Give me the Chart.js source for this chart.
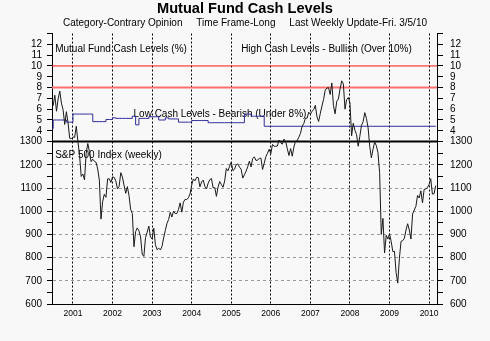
<!DOCTYPE html>
<html>
<head>
<meta charset="utf-8">
<script src="https://cdn.jsdelivr.net/npm/chart.js@4.4.0/dist/chart.umd.min.js"></script>
<style>
  html, body { margin: 0; padding: 0; background: #f8f8f8; }
</style>
</head>
<body>
<canvas id="cashChart" width="490" height="341"></canvas>
<script>
const FONT = "'Liberation Sans', Arial, sans-serif";

const TITLE = "Mutual Fund Cash Levels";
const SUBTITLE = "Category-Contrary Opinion     Time Frame-Long     Last Weekly Update-Fri. 3/5/10";

// x range (decimal years) and year labels
const X_MIN = 2000.47;
const X_MAX = 2010.2;
const yearLabels = [2001, 2002, 2003, 2004, 2005, 2006, 2007, 2008, 2009, 2010];

// S&P 500, twice a month from end of June 2000 (mid month, end of month)
const SP_START = 2000.5;
const SP_STEP = 1 / 24;
const spValues = [
    1455,
    1500, 1431, 1484, 1518, 1466, 1437, 1374, 1429, 1382, 1315, 1313, 1320,
    1318, 1366, 1301, 1240, 1150, 1160, 1135, 1249, 1292, 1256, 1214, 1224,
    1215, 1211, 1182, 1134, 966, 1041, 1073, 1060, 1139, 1140, 1124, 1148,
    1146, 1130, 1096, 1107, 1166, 1147, 1111, 1077, 1106, 1067, 1007, 990,
    847, 912, 928, 916, 889, 815, 805, 886, 909, 936, 890, 880,
    927, 856, 834, 841, 833, 848, 885, 917, 947, 964, 995, 975,
    1000, 990, 990, 1008, 1036, 996, 1039, 1051, 1050, 1058, 1074, 1112,
    1139, 1131, 1146, 1145, 1105, 1126, 1134, 1107, 1096, 1121, 1136, 1141,
    1101, 1102, 1064, 1104, 1128, 1115, 1103, 1130, 1184, 1174, 1194, 1212,
    1175, 1181, 1201, 1204, 1190, 1181, 1143, 1157, 1173, 1192, 1216, 1191,
    1227, 1234, 1219, 1220, 1228, 1229, 1180, 1207, 1235, 1250, 1267, 1248,
    1288, 1280, 1280, 1281, 1307, 1295, 1289, 1311, 1300, 1270, 1240, 1270,
    1237, 1277, 1302, 1304, 1319, 1336, 1366, 1378, 1401, 1401, 1427, 1418,
    1431, 1438, 1456, 1407, 1387, 1421, 1453, 1482, 1522, 1531, 1533, 1503,
    1553, 1455, 1420, 1474, 1484, 1527, 1562, 1549, 1440, 1481, 1490, 1468,
    1325, 1379, 1349, 1331, 1280, 1323, 1370, 1386, 1425, 1400, 1360, 1280,
    1230, 1267, 1298, 1283, 1252, 1166, 900, 969, 820, 896, 880, 903,
    870, 826, 827, 735, 690, 798, 870, 873, 883, 919, 946, 919,
    880, 988, 1005, 1021, 1068, 1057, 1088, 1036, 1094, 1096, 1102, 1115,
    1140, 1074, 1075, 1110
];

// mutual fund cash levels (%), monthly from June 2000, then flat to the last update
const CASH_START = 2000 + 5 / 12;
const CASH_STEP = 1 / 12;
const cashValues = [
    4.2,
    5.0, 5.0, 5.0, 5.0, 4.8, 4.8,
    5.55, 5.55, 5.55, 5.55, 5.55, 5.55, 4.85, 4.85, 4.85, 4.85, 5.05, 5.05,
    5.2, 5.15, 5.15, 5.15, 5.15, 5.15, 5.35, 4.55, 5.15, 5.15, 5.15, 5.3,
    5.3, 5.3, 5.0, 5.0, 5.2, 5.1, 5.1, 5.1, 4.8, 4.8, 4.8, 4.8,
    4.95, 4.95, 4.95, 4.95, 4.95, 4.75, 4.75, 4.75, 4.75, 4.75, 4.75, 4.75,
    4.75, 4.75, 4.75, 4.75, 5.55, 5.55, 5.35, 5.35, 5.35, 5.35, 4.42
];
const CASH_LAST_DATE = 2010.17;

// threshold lines on the cash scale
const highCashLevel = 10;
const lowCashLevel = 8;

// the two panels: S&P 600-1300 below, cash 3-13 above
const SP_MIN = 600;
const SP_SPLIT = 1300;
const CASH_SPLIT = 3;
const CASH_MAX = 13;
const SP_PER_CASH = 46.6;
const SP_MAX = SP_SPLIT + (CASH_MAX - CASH_SPLIT) * SP_PER_CASH;
const CASH_MIN = CASH_SPLIT - (SP_SPLIT - SP_MIN) / SP_PER_CASH;

const spTickLabels = [600, 700, 800, 900, 1000, 1100, 1200, 1300];
const cashTickLabels = [4, 5, 6, 7, 8, 9, 10, 11, 12];
const gridValues = [700, 800, 900, 1000, 1100, 1200];

const panelNotes = [
    { text: "Mutual Fund Cash Levels (%)", x: 2000.55, y: 11.5, axis: 'c' },
    { text: "High Cash Levels - Bullish (Over 10%)", x: 2005.25, y: 11.5, axis: 'c' },
    { text: "Low Cash Levels - Bearish (Under 8%)", x: 2002.53, y: 5.5, axis: 'c' },
    { text: "S&P 500 Index (weekly)", x: 2000.55, y: 1240, axis: 'y' }
];

function cashToSp(c) {
    return SP_SPLIT + (c - CASH_SPLIT) * SP_PER_CASH;
}

// ticks for the shared left/right axes
const axisTicks = [];
spTickLabels.forEach((v, i) => {
    axisTicks.push({ value: v, label: String(v) });
    if (i < spTickLabels.length - 1) {
        axisTicks.push({ value: (v + spTickLabels[i + 1]) / 2, label: '' });
    }
});
cashTickLabels.forEach(c => axisTicks.push({ value: cashToSp(c), label: String(c) }));
axisTicks.push({ value: cashToSp(CASH_MAX), label: '' });
axisTicks.sort((a, b) => a.value - b.value);

const spData = spValues.map((v, i) => ({ x: SP_START + i * SP_STEP, y: v }));
const cashData = cashValues.map((v, i) => ({ x: CASH_START + i * CASH_STEP, y: v }));
cashData.push({ x: CASH_LAST_DATE, y: cashValues[cashValues.length - 1] });

function flatLine(value) {
    return [{ x: X_MIN, y: value }, { x: X_MAX, y: value }];
}

const backgroundPlugin = {
    id: 'background',
    beforeDraw(chart) {
        const ctx = chart.ctx;
        ctx.save();
        ctx.fillStyle = '#f8f8f8';
        ctx.fillRect(0, 0, chart.width, chart.height);
        ctx.restore();
    }
};

const notesPlugin = {
    id: 'panelNotes',
    beforeDatasetsDraw(chart) {
        const ctx = chart.ctx;
        ctx.save();
        ctx.font = '10px ' + FONT;
        ctx.fillStyle = '#000';
        ctx.textAlign = 'left';
        ctx.textBaseline = 'middle';
        panelNotes.forEach(n => {
            const x = chart.scales.x.getPixelForValue(n.x);
            const y = chart.scales[n.axis].getPixelForValue(n.y);
            ctx.fillText(n.text, x, y);
        });
        ctx.restore();
    }
};

const line = { pointRadius: 0, pointHoverRadius: 0, tension: 0, fill: false };

const ctx = document.getElementById('cashChart').getContext('2d');
const cashChart = new Chart(ctx, {
    type: 'line',
    data: {
        datasets: [
            { ...line, label: 'S&P 500', data: spData, yAxisID: 'y', borderColor: '#1a1a1a', borderWidth: 1 },
            { ...line, label: 'split', data: flatLine(SP_SPLIT), yAxisID: 'y', borderColor: '#000', borderWidth: 2 },
            { ...line, label: 'Cash', data: cashData, yAxisID: 'c', borderColor: '#2f2f9c', borderWidth: 1, stepped: true },
            { ...line, label: 'High', data: flatLine(highCashLevel), yAxisID: 'c', borderColor: '#ff1010', borderWidth: 1 },
            { ...line, label: 'Low', data: flatLine(lowCashLevel), yAxisID: 'c', borderColor: '#ff7070', borderWidth: 2 }
        ]
    },
    options: {
        responsive: false,
        animation: false,
        devicePixelRatio: 1,
        layout: { padding: 0 },
        plugins: {
            legend: { display: false },
            tooltip: { enabled: false },
            title: {
                display: true, text: TITLE, color: '#000',
                font: { family: FONT, size: 14.6, weight: 'bold' },
                padding: { top: 0, bottom: 0 }
            },
            subtitle: {
                display: true, text: SUBTITLE, color: '#000',
                font: { family: FONT, size: 10 },
                padding: { top: 0, bottom: 4 }
            }
        },
        scales: {
            x: {
                type: 'linear', min: X_MIN, max: X_MAX,
                afterFit: s => { s.height = 37; },
                afterBuildTicks: s => { s.ticks = yearLabels.map(v => ({ value: v })); },
                ticks: {
                    autoSkip: false, maxRotation: 0, padding: 5, color: '#000',
                    font: { family: FONT, size: 8.5 },
                    callback: (v, i) => String(yearLabels[i])
                },
                grid: { color: '#000', lineWidth: 1, drawTicks: false },
                border: { display: true, color: '#000', width: 1, dash: [2, 2] }
            },
            y: {
                type: 'linear', position: 'left', min: SP_MIN, max: SP_MAX,
                afterFit: s => { s.width = 52; },
                afterBuildTicks: s => { s.ticks = axisTicks.map(t => ({ value: t.value })); },
                ticks: {
                    autoSkip: false, padding: 5, color: '#000',
                    font: { family: FONT, size: 10 },
                    callback: (v, i) => axisTicks[i].label
                },
                grid: {
                    color: c => (c.tick && gridValues.includes(c.tick.value)) ? '#9a9a9a' : 'rgba(0,0,0,0)',
                    tickColor: '#000', tickLength: 5, lineWidth: 1
                },
                border: { display: true, color: '#000', width: 1, dash: [3, 3] }
            },
            yR: {
                type: 'linear', position: 'right', min: SP_MIN, max: SP_MAX,
                afterFit: s => { s.width = 53; },
                afterBuildTicks: s => { s.ticks = axisTicks.map(t => ({ value: t.value })); },
                ticks: {
                    autoSkip: false, padding: 7, color: '#000',
                    font: { family: FONT, size: 10 },
                    callback: (v, i) => axisTicks[i].label
                },
                grid: { drawOnChartArea: false, tickColor: '#000', tickLength: 6 },
                border: { display: true, color: '#000', width: 1 }
            },
            c: {
                type: 'linear', display: false, min: CASH_MIN, max: CASH_MAX
            }
        }
    },
    plugins: [backgroundPlugin, notesPlugin]
});
</script>
</body>
</html>
